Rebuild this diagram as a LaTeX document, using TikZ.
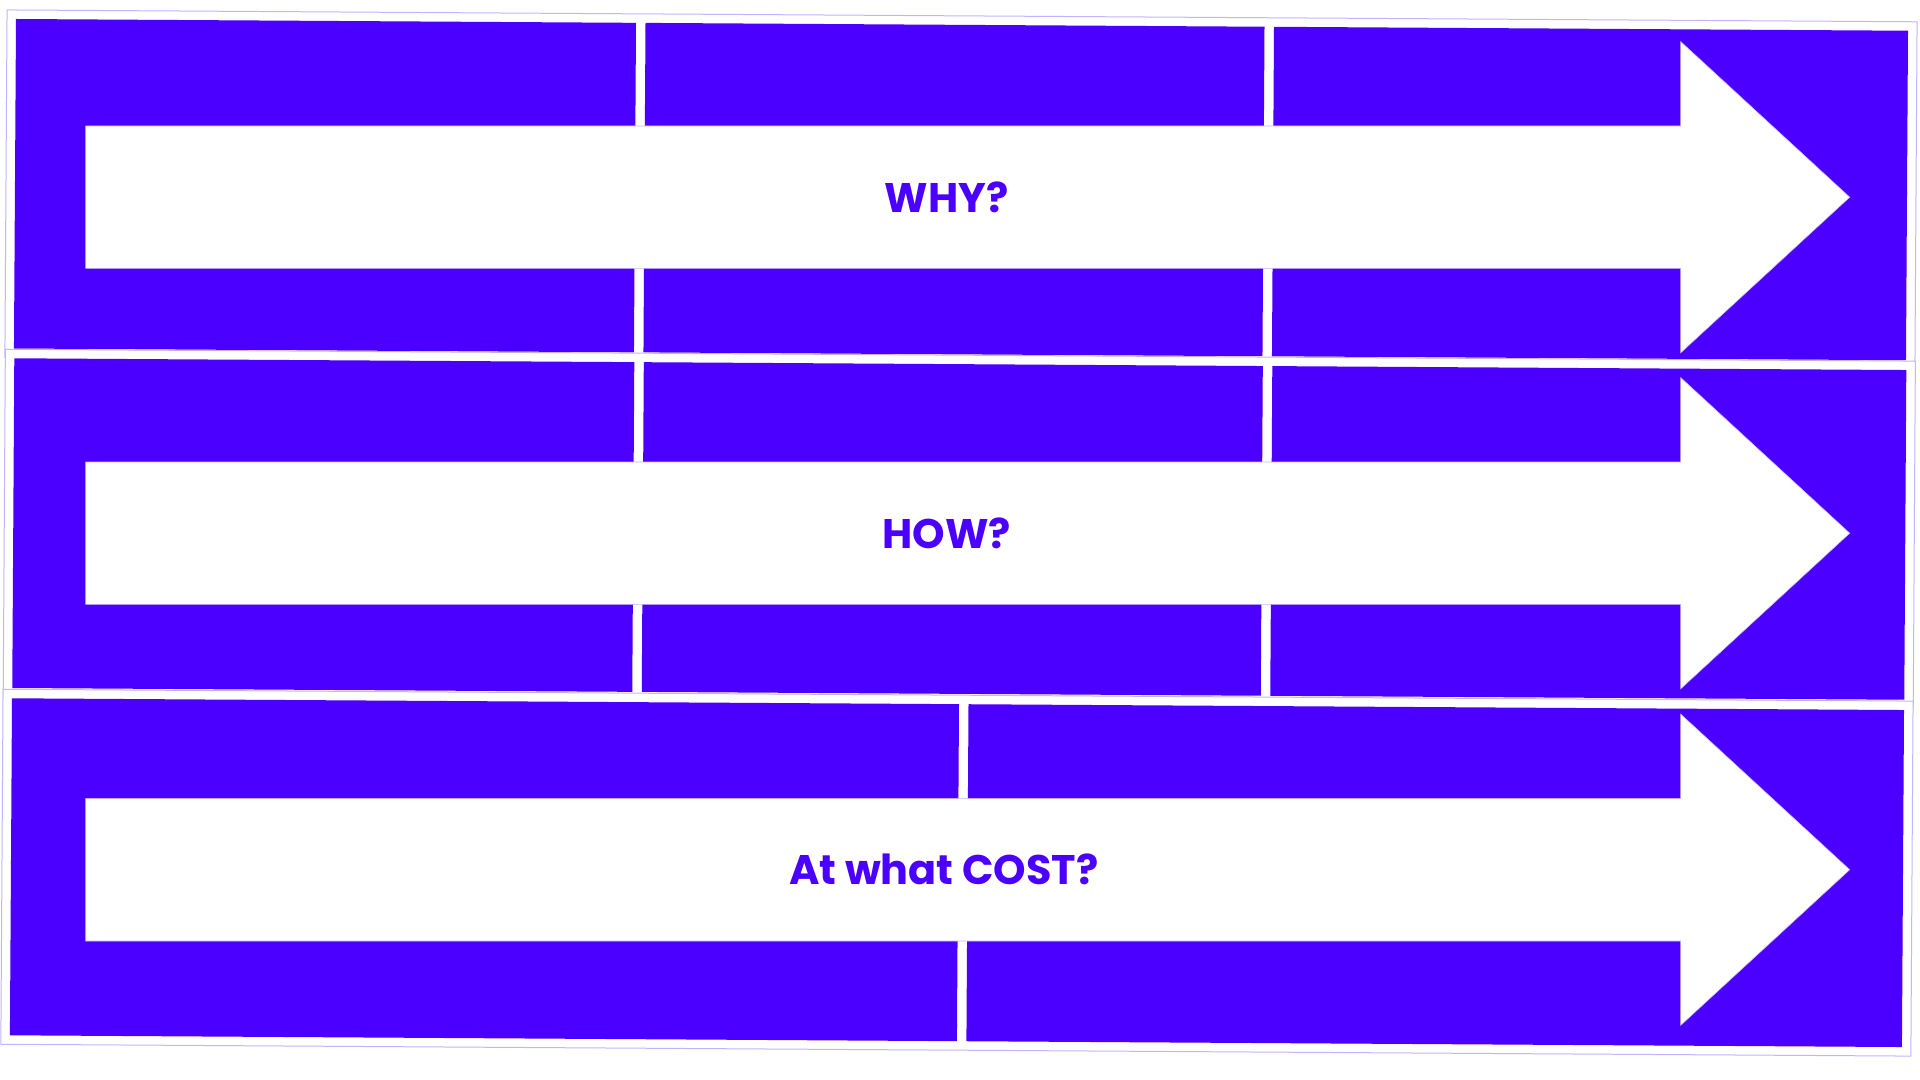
\documentclass[tikz,border=0pt]{standalone}
\usepackage{fontspec}
\setmainfont{Poppins}
\usepackage{tikz}
\definecolor{myblue}{RGB}{75, 0, 255}
\definecolor{mylilac}{RGB}{195, 180, 255}
\tikzset{every picture/.style={line width=0.75pt}}

\begin{document}
\begin{tikzpicture}[x=0.75pt,y=0.75pt,yscale=-1,xscale=1,
  frame/.style={fill=white, draw=mylilac, line width=0.75},
  band/.style={fill=myblue, draw=none},
  cut/.style={fill=white, draw=mylilac, line width=0.4},
  lbl/.style={font=\fontsize{31}{37}\selectfont\bfseries, text=myblue, inner sep=0.75pt}]
\useasboundingbox (0,0) rectangle (1920,1080); %set diagram to the full 1920 x 1080 sheet

%Shape: Frame [row 1]
\draw  [frame] (7.06,9.94) -- (1917.06,21.79) -- (1914.90,369.29) -- (4.90,357.44) -- cycle ;
%Shape: Band [row 1, left]
\draw  [band] (16,19) -- (636,22.84) -- (633.96,352.34) -- (13.96,348.5) -- cycle ;
%Shape: Band [row 1, middle]
\draw  [band] (645.5,22.90) -- (1264.5,26.74) -- (1262.46,356.24) -- (643.46,352.40) -- cycle ;
%Shape: Band [row 1, right]
\draw  [band] (1274,26.80) -- (1908,30.73) -- (1905.96,360.23) -- (1271.96,356.30) -- cycle ;

%Shape: Frame [row 2]
\draw  [frame] (5.36,349.24) -- (1915.36,361.09) -- (1913.20,708.79) -- (3.20,696.94) -- cycle ;
%Shape: Band [row 2, left]
\draw  [band] (14.3,358.3) -- (634.3,362.14) -- (632.26,691.84) -- (12.26,688.0) -- cycle ;
%Shape: Band [row 2, middle]
\draw  [band] (643.8,362.20) -- (1262.8,366.04) -- (1260.76,695.74) -- (641.76,691.90) -- cycle ;
%Shape: Band [row 2, right]
\draw  [band] (1272.3,366.10) -- (1906.3,370.03) -- (1904.26,699.73) -- (1270.26,695.80) -- cycle ;

%Shape: Frame [row 3]
\draw  [frame] (3.06,689.24) -- (1913.06,701.09) -- (1910.85,1056.09) -- (0.85,1044.24) -- cycle ;
%Shape: Band [row 3, left]
\draw  [band] (12,698.3) -- (959,704.17) -- (956.91,1041.17) -- (9.91,1035.3) -- cycle ;
%Shape: Band [row 3, right]
\draw  [band] (968.5,704.23) -- (1904,710.03) -- (1901.91,1047.03) -- (966.41,1041.23) -- cycle ;

%Shape: Right Arrow [row 1]
\draw  [cut] (85.7,126) -- (1680.7,126) -- (1680.7,41.6) -- (1849.7,197.2) -- (1680.7,352.8) -- (1680.7,268.3) -- (85.7,268.3) -- cycle ;
%Shape: Right Arrow [row 2]
\draw  [cut] (85.7,462) -- (1680.7,462) -- (1680.7,377.6) -- (1849.7,533.2) -- (1680.7,688.8) -- (1680.7,604.3) -- (85.7,604.3) -- cycle ;
%Shape: Right Arrow [row 3]
\draw  [cut] (85.7,798.3) -- (1680.7,798.3) -- (1680.7,714.1) -- (1849.7,869.7) -- (1680.7,1025.3) -- (1680.7,941) -- (85.7,941) -- cycle ;

% Text Node
\draw (946.6,197.2) node [lbl] (why) {WHY?};
% Text Node
\draw (946.6,533.2) node [lbl] (how) {HOW?};
% Text Node
\draw (943.8,869.3) node [lbl] (cost) {At what COST?};

\end{tikzpicture}
\end{document}
